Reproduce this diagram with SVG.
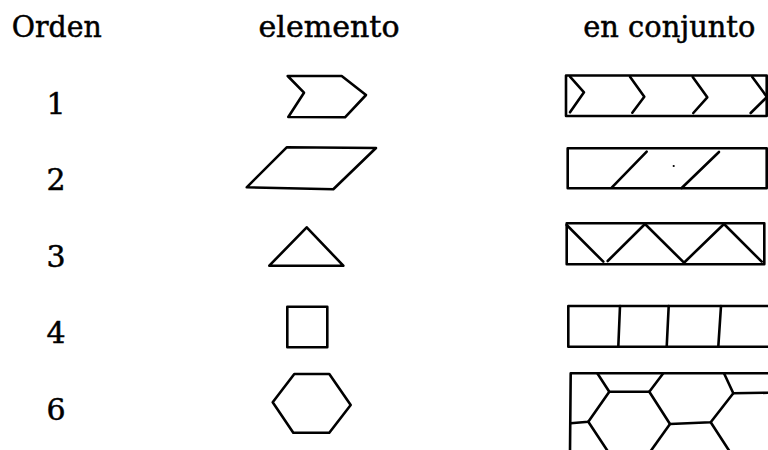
<svg xmlns="http://www.w3.org/2000/svg" width="768" height="450" viewBox="0 0 768 450">
<style>
text{font-family:"DejaVu Serif","Liberation Serif",serif;font-size:30px;fill:#000;stroke:#000;stroke-width:0.5}
.n{text-anchor:middle}
.s{fill:none;stroke:#000;stroke-width:2.6;stroke-linejoin:round;stroke-linecap:round}
</style>
<rect width="768" height="450" fill="#fff"/>
<g id="header">
<text x="11.7" y="36.7" textLength="90" lengthAdjust="spacingAndGlyphs">Orden</text>
<text x="258.5" y="36.7" textLength="141" lengthAdjust="spacingAndGlyphs">elemento</text>
<text x="583.3" y="36.7" textLength="172" lengthAdjust="spacingAndGlyphs">en conjunto</text>
</g>
<g id="row1">
<text class="n" x="56" y="114.3">1</text>
<polygon class="s" points="287.7,76 341.7,76 366,95 345,117.3 288.3,117 304,92.7"/>
<rect class="s" x="566" y="75.5" width="200.7" height="40.5"/>
<polyline class="s" points="570,76.7 584,92.3 570,112.3"/>
<polyline class="s" points="630,76.7 644.3,96.7 632.3,112.7"/>
<polyline class="s" points="692.7,77 707.3,97.3 693.3,113"/>
<polyline class="s" points="752.3,77 767,97 750.7,113"/>
</g>
<g id="row2">
<text class="n" x="56" y="190">2</text>
<polygon class="s" points="286.7,147.3 376,148 333.3,189.3 246.7,187.3"/>
<rect class="s" x="567.7" y="148.3" width="199" height="40"/>
<line class="s" x1="646.7" y1="151.7" x2="611.7" y2="187.7"/>
<line class="s" x1="719" y1="152" x2="681.7" y2="188"/>
<circle cx="673.7" cy="166" r="1.1" fill="#000"/>
</g>
<g id="row3">
<text class="n" x="56" y="266.7">3</text>
<polygon class="s" points="306.7,227.3 343.3,265.7 269.3,265.7"/>
<rect class="s" x="566.7" y="223.3" width="197.6" height="41"/>
<polyline class="s" points="566.7,225 603.3,261.7"/>
<polyline class="s" points="607.7,261 645,224 684,262.7 724,224 761.7,261.7"/>
</g>
<g id="row4">
<text class="n" x="56" y="343.3">4</text>
<rect class="s" x="287.3" y="306.7" width="40" height="40.6"/>
<rect class="s" x="568.3" y="306" width="202" height="40.7"/>
<line class="s" x1="620" y1="306" x2="618.3" y2="346.7"/>
<line class="s" x1="668.7" y1="306" x2="666.7" y2="346.7"/>
<line class="s" x1="721" y1="306" x2="718.3" y2="346.7"/>
</g>
<g id="row6">
<text class="n" x="56" y="420">6</text>
<polygon class="s" points="294.3,374 329.3,374 350.7,405 329.3,432.7 293.3,432.7 272.7,402.3"/>
<polyline class="s" points="570,452 570.7,373.3 770,373.3"/>
<polyline class="s" points="597.3,373.3 609.3,391.7 649.3,391.7 663.3,373.3"/>
<polyline class="s" points="609.3,391.7 588.3,421.7 570.7,423.3"/>
<line class="s" x1="588.3" y1="421.7" x2="608.3" y2="452"/>
<polyline class="s" points="649.3,391.7 670,424 710.7,422.3 733.3,393.3 770,392.7"/>
<line class="s" x1="733.3" y1="393.3" x2="724" y2="373.3"/>
<line class="s" x1="670" y1="424" x2="650" y2="452"/>
<line class="s" x1="710.7" y1="422.3" x2="730" y2="452"/>
</g>
</svg>
